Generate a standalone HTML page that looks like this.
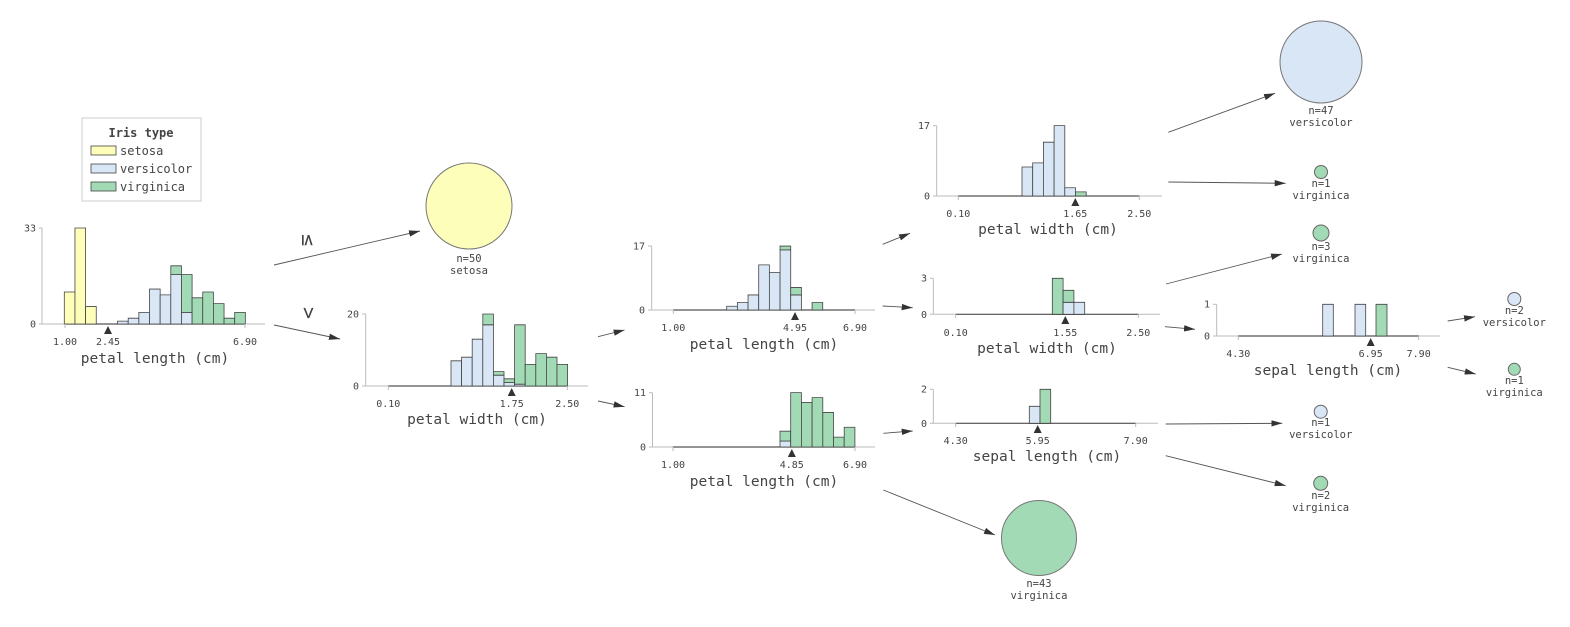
<!DOCTYPE html>
<html><head><meta charset="utf-8"><style>
html,body{margin:0;padding:0;background:#fff}
svg{display:block}
text{font-family:"DejaVu Sans Mono","Liberation Mono",monospace;fill:#444}
.t{font-size:10px}
.ax{font-size:14.5px}
.lf{font-size:10.5px}
.b rect{stroke:#444;stroke-width:0.8;vector-effect:non-scaling-stroke}
.Y{fill:#fefebb}.B{fill:#d9e6f5}.G{fill:#a1dab4}
.al{stroke:#bbb;stroke-width:1}
.bl{stroke:#555;stroke-width:1.2}
.ar{stroke:#555;stroke-width:0.9;fill:none;marker-end:url(#m)}
</style></head><body>
<svg width="1570" height="627" viewBox="0 0 1570 627" xmlns="http://www.w3.org/2000/svg">
<defs><marker id="m" markerUnits="userSpaceOnUse" markerWidth="12" markerHeight="8" refX="11" refY="4" orient="auto"><path d="M0,0.8 L11,4 L0,7.2 z" fill="#333"/></marker></defs>

<!-- legend -->
<rect x="82" y="118" width="119" height="83" fill="#fff" stroke="#ccc"/>
<text x="141" y="137" text-anchor="middle" style="font-size:12px;font-weight:bold">Iris type</text>
<rect x="91" y="146" width="25" height="9" class="Y" stroke="#444" stroke-width="0.8"/>
<rect x="91" y="164" width="25" height="9" class="B" stroke="#444" stroke-width="0.8"/>
<rect x="91" y="182" width="25" height="9" class="G" stroke="#444" stroke-width="0.8"/>
<text x="120" y="155" style="font-size:12px">setosa</text>
<text x="120" y="173" style="font-size:12px">versicolor</text>
<text x="120" y="191" style="font-size:12px">virginica</text>

<!-- ROOT -->
<line class="al" x1="42" y1="324" x2="265" y2="324"/><line class="al" x1="42" y1="228" x2="42" y2="324"/>
<line class="al" x1="39" y1="228" x2="42" y2="228"/><line class="al" x1="39" y1="324" x2="42" y2="324"/>
<line class="bl" x1="64.3" y1="324" x2="245.3" y2="324"/>
<g class="b" transform="translate(64.3,324) scale(10.65,-2.91)">
<rect class="Y" x="0" y="0" width="1" height="11"/><rect class="Y" x="1" y="0" width="1" height="33"/><rect class="Y" x="2" y="0" width="1" height="6"/>
<rect class="B" x="5" y="0" width="1" height="1"/><rect class="B" x="6" y="0" width="1" height="2"/><rect class="B" x="7" y="0" width="1" height="4"/>
<rect class="B" x="8" y="0" width="1" height="12"/><rect class="B" x="9" y="0" width="1" height="10"/>
<rect class="B" x="10" y="0" width="1" height="17"/><rect class="G" x="10" y="17" width="1" height="3"/>
<rect class="B" x="11" y="0" width="1" height="4"/><rect class="G" x="11" y="4" width="1" height="13"/>
<rect class="G" x="12" y="0" width="1" height="9"/><rect class="G" x="13" y="0" width="1" height="11"/><rect class="G" x="14" y="0" width="1" height="7"/>
<rect class="G" x="15" y="0" width="1" height="2"/><rect class="G" x="16" y="0" width="1" height="4"/>
</g>
<line class="al" x1="65" y1="324" x2="65" y2="328"/><line class="al" x1="245" y1="324" x2="245" y2="328"/>
<path d="M104,334 L108,326 L112,334 z" fill="#333"/>
<text class="t" x="36" y="231.5" text-anchor="end">33</text><text class="t" x="36" y="327.5" text-anchor="end">0</text>
<text class="t" x="65" y="345" text-anchor="middle">1.00</text><text class="t" x="108" y="345" text-anchor="middle">2.45</text><text class="t" x="245" y="345" text-anchor="middle">6.90</text>
<text class="ax" x="155" y="363" text-anchor="middle">petal length (cm)</text>

<text x="308" y="246" text-anchor="middle" transform="rotate(90 308 240)" style="font-size:20px">≤</text>
<text x="308" y="319" text-anchor="middle" transform="rotate(90 308 313)" style="font-size:20px">&gt;</text>
<line class="ar" x1="274" y1="265" x2="420" y2="231"/>
<line class="ar" x1="274" y1="325" x2="340" y2="339"/>

<!-- setosa leaf -->
<circle cx="469" cy="206" r="43" class="Y" stroke="#777"/>
<text class="lf" x="469" y="262" text-anchor="middle">n=50</text><text class="lf" x="469" y="274" text-anchor="middle">setosa</text>

<!-- NODE 2 petal width -->
<line class="al" x1="365.7" y1="386" x2="588" y2="386"/><line class="al" x1="365.7" y1="314" x2="365.7" y2="386"/>
<line class="al" x1="362" y1="314" x2="365.7" y2="314"/><line class="al" x1="362" y1="386" x2="365.7" y2="386"/>
<line class="bl" x1="388.3" y1="386" x2="567.3" y2="386"/>
<g class="b" transform="translate(451,386) scale(10.6,-3.6)">
<rect class="B" x="0" y="0" width="1" height="7"/><rect class="B" x="1" y="0" width="1" height="8"/><rect class="B" x="2" y="0" width="1" height="13"/>
<rect class="B" x="3" y="0" width="1" height="17"/><rect class="G" x="3" y="17" width="1" height="3"/>
<rect class="B" x="4" y="0" width="1" height="3"/><rect class="G" x="4" y="3" width="1" height="1"/>
<rect class="B" x="5" y="0" width="1" height="1"/><rect class="G" x="5" y="1" width="1" height="1"/>
<rect class="B" x="6" y="0" width="1" height="0.5"/><rect class="G" x="6" y="0.5" width="1" height="16.5"/>
<rect class="G" x="7" y="0" width="1" height="6"/><rect class="G" x="8" y="0" width="1" height="9"/><rect class="G" x="9" y="0" width="1" height="8"/><rect class="G" x="10" y="0" width="1" height="6"/>
</g>
<line class="al" x1="388.3" y1="386" x2="388.3" y2="390"/><line class="al" x1="567.3" y1="386" x2="567.3" y2="390"/>
<path d="M507.7,396 L511.7,388 L515.7,396 z" fill="#333"/>
<text class="t" x="359" y="317.5" text-anchor="end">20</text><text class="t" x="359" y="389.5" text-anchor="end">0</text>
<text class="t" x="388.3" y="407" text-anchor="middle">0.10</text><text class="t" x="511.7" y="407" text-anchor="middle">1.75</text><text class="t" x="567.3" y="407" text-anchor="middle">2.50</text>
<text class="ax" x="477" y="424" text-anchor="middle">petal width (cm)</text>
<line class="ar" x1="598" y1="336.7" x2="624.6" y2="330"/>
<line class="ar" x1="598" y1="401" x2="624.6" y2="406.7"/>

<!-- NODE 3 petal length top -->
<line class="al" x1="651.7" y1="310" x2="875" y2="310"/><line class="al" x1="651.7" y1="246" x2="651.7" y2="310"/>
<line class="al" x1="648" y1="246" x2="651.7" y2="246"/><line class="al" x1="648" y1="310" x2="651.7" y2="310"/>
<line class="bl" x1="673.3" y1="310" x2="855" y2="310"/>
<g class="b" transform="translate(726.7,310) scale(10.67,-3.76)">
<rect class="B" x="0" y="0" width="1" height="1"/><rect class="B" x="1" y="0" width="1" height="2"/><rect class="B" x="2" y="0" width="1" height="4"/>
<rect class="B" x="3" y="0" width="1" height="12"/><rect class="B" x="4" y="0" width="1" height="10"/>
<rect class="B" x="5" y="0" width="1" height="16"/><rect class="G" x="5" y="16" width="1" height="1"/>
<rect class="B" x="6" y="0" width="1" height="4"/><rect class="G" x="6" y="4" width="1" height="2"/>
<rect class="G" x="8" y="0" width="1" height="2"/>
</g>
<line class="al" x1="673.3" y1="310" x2="673.3" y2="314"/><line class="al" x1="855" y1="310" x2="855" y2="314"/>
<path d="M791,320 L795,312 L799,320 z" fill="#333"/>
<text class="t" x="645" y="249.5" text-anchor="end">17</text><text class="t" x="645" y="313.5" text-anchor="end">0</text>
<text class="t" x="673.3" y="331" text-anchor="middle">1.00</text><text class="t" x="795" y="331" text-anchor="middle">4.95</text><text class="t" x="855" y="331" text-anchor="middle">6.90</text>
<text class="ax" x="764" y="349" text-anchor="middle">petal length (cm)</text>
<line class="ar" x1="882.7" y1="244.3" x2="910" y2="233.3"/>
<line class="ar" x1="882.7" y1="306" x2="912.7" y2="307.7"/>

<!-- NODE 4 petal length bottom -->
<line class="al" x1="652.5" y1="447" x2="875" y2="447"/><line class="al" x1="652.5" y1="392.7" x2="652.5" y2="447"/>
<line class="al" x1="649" y1="392.7" x2="652.5" y2="392.7"/><line class="al" x1="649" y1="447" x2="652.5" y2="447"/>
<line class="bl" x1="673" y1="447" x2="855" y2="447"/>
<g class="b" transform="translate(780,447) scale(10.7,-4.94)">
<rect class="B" x="0" y="0" width="1" height="1.2"/><rect class="G" x="0" y="1.2" width="1" height="2"/>
<rect class="G" x="1" y="0" width="1" height="11"/><rect class="G" x="2" y="0" width="1" height="9"/><rect class="G" x="3" y="0" width="1" height="10"/>
<rect class="G" x="4" y="0" width="1" height="7"/><rect class="G" x="5" y="0" width="1" height="2"/><rect class="G" x="6" y="0" width="1" height="4"/>
</g>
<line class="al" x1="673" y1="447" x2="673" y2="451"/><line class="al" x1="855" y1="447" x2="855" y2="451"/>
<path d="M787.8,457 L791.8,449 L795.8,457 z" fill="#333"/>
<text class="t" x="646" y="396" text-anchor="end">11</text><text class="t" x="646" y="450.5" text-anchor="end">0</text>
<text class="t" x="673" y="468" text-anchor="middle">1.00</text><text class="t" x="791.8" y="468" text-anchor="middle">4.85</text><text class="t" x="855" y="468" text-anchor="middle">6.90</text>
<text class="ax" x="764" y="486" text-anchor="middle">petal length (cm)</text>
<line class="ar" x1="883.3" y1="433.3" x2="912.7" y2="431"/>
<line class="ar" x1="883.3" y1="490" x2="995" y2="535"/>

<!-- n=43 leaf -->
<circle cx="1039" cy="538" r="37.5" class="G" stroke="#777"/>
<text class="lf" x="1039" y="587" text-anchor="middle">n=43</text><text class="lf" x="1039" y="599" text-anchor="middle">virginica</text>

<!-- NODE 5 petal width top-right -->
<line class="al" x1="936.7" y1="196" x2="1162" y2="196"/><line class="al" x1="936.7" y1="125.7" x2="936.7" y2="196"/>
<line class="al" x1="933" y1="125.7" x2="936.7" y2="125.7"/><line class="al" x1="933" y1="196" x2="936.7" y2="196"/>
<line class="bl" x1="958.3" y1="196" x2="1139.3" y2="196"/>
<g class="b" transform="translate(1022,196) scale(10.7,-4.14)">
<rect class="B" x="0" y="0" width="1" height="7"/><rect class="B" x="1" y="0" width="1" height="8"/><rect class="B" x="2" y="0" width="1" height="13"/>
<rect class="B" x="3" y="0" width="1" height="17"/><rect class="B" x="4" y="0" width="1" height="2"/><rect class="G" x="5" y="0" width="1" height="1"/>
</g>
<line class="al" x1="958.3" y1="196" x2="958.3" y2="200"/><line class="al" x1="1139.3" y1="196" x2="1139.3" y2="200"/>
<path d="M1071.3,206 L1075.3,198 L1079.3,206 z" fill="#333"/>
<text class="t" x="930" y="129" text-anchor="end">17</text><text class="t" x="930" y="199.5" text-anchor="end">0</text>
<text class="t" x="958.3" y="217" text-anchor="middle">0.10</text><text class="t" x="1075.3" y="217" text-anchor="middle">1.65</text><text class="t" x="1139.3" y="217" text-anchor="middle">2.50</text>
<text class="ax" x="1048" y="234" text-anchor="middle">petal width (cm)</text>
<line class="ar" x1="1168.3" y1="132.3" x2="1275" y2="93.3"/>
<line class="ar" x1="1168.3" y1="182" x2="1285.7" y2="183.3"/>

<!-- leaves top right -->
<circle cx="1321" cy="62" r="41" class="B" stroke="#777"/>
<text class="lf" x="1321" y="114" text-anchor="middle">n=47</text><text class="lf" x="1321" y="126" text-anchor="middle">versicolor</text>
<circle cx="1321" cy="172" r="6.5" class="G" stroke="#666"/>
<text class="lf" x="1321" y="187" text-anchor="middle">n=1</text><text class="lf" x="1321" y="199" text-anchor="middle">virginica</text>
<circle cx="1321" cy="233" r="8" class="G" stroke="#666"/>
<text class="lf" x="1321" y="250" text-anchor="middle">n=3</text><text class="lf" x="1321" y="262" text-anchor="middle">virginica</text>

<!-- NODE 6 petal width mid-right -->
<line class="al" x1="933.3" y1="314.3" x2="1160" y2="314.3"/><line class="al" x1="933.3" y1="278.3" x2="933.3" y2="314.3"/>
<line class="al" x1="930" y1="278.3" x2="933.3" y2="278.3"/><line class="al" x1="930" y1="314.3" x2="933.3" y2="314.3"/>
<line class="bl" x1="955.7" y1="314.3" x2="1138.3" y2="314.3"/>
<g class="b" transform="translate(1052.3,314.3) scale(10.8,-12)">
<rect class="G" x="0" y="0" width="1" height="3"/>
<rect class="B" x="1" y="0" width="1" height="1"/><rect class="G" x="1" y="1" width="1" height="1"/>
<rect class="B" x="2" y="0" width="1" height="1"/>
</g>
<line class="al" x1="955.7" y1="314.3" x2="955.7" y2="318"/><line class="al" x1="1138.3" y1="314.3" x2="1138.3" y2="318"/>
<path d="M1061.3,324 L1065.3,316 L1069.3,324 z" fill="#333"/>
<text class="t" x="927" y="281.5" text-anchor="end">3</text><text class="t" x="927" y="318" text-anchor="end">0</text>
<text class="t" x="955.7" y="336" text-anchor="middle">0.10</text><text class="t" x="1065.3" y="336" text-anchor="middle">1.55</text><text class="t" x="1138.3" y="336" text-anchor="middle">2.50</text>
<text class="ax" x="1047" y="353" text-anchor="middle">petal width (cm)</text>
<line class="ar" x1="1166" y1="284" x2="1282" y2="254"/>
<line class="ar" x1="1165" y1="326.7" x2="1195" y2="329.3"/>

<!-- NODE 7 sepal length -->
<line class="al" x1="933.3" y1="423.3" x2="1158" y2="423.3"/><line class="al" x1="933.3" y1="389.3" x2="933.3" y2="423.3"/>
<line class="al" x1="930" y1="389.3" x2="933.3" y2="389.3"/><line class="al" x1="930" y1="423.3" x2="933.3" y2="423.3"/>
<line class="bl" x1="955.7" y1="423.3" x2="1135.7" y2="423.3"/>
<g class="b" transform="translate(1029.3,423.3) scale(10.7,-17)">
<rect class="B" x="0" y="0" width="1" height="1"/><rect class="G" x="1" y="0" width="1" height="2"/>
</g>
<line class="al" x1="955.7" y1="423.3" x2="955.7" y2="427"/><line class="al" x1="1135.7" y1="423.3" x2="1135.7" y2="427"/>
<path d="M1033.7,433 L1037.7,425 L1041.7,433 z" fill="#333"/>
<text class="t" x="927" y="392.5" text-anchor="end">2</text><text class="t" x="927" y="427" text-anchor="end">0</text>
<text class="t" x="955.7" y="444" text-anchor="middle">4.30</text><text class="t" x="1037.7" y="444" text-anchor="middle">5.95</text><text class="t" x="1135.7" y="444" text-anchor="middle">7.90</text>
<text class="ax" x="1047" y="461" text-anchor="middle">sepal length (cm)</text>
<line class="ar" x1="1165.7" y1="424" x2="1282.3" y2="423.3"/>
<line class="ar" x1="1165.7" y1="455.7" x2="1285.7" y2="485.7"/>

<circle cx="1320.7" cy="411.7" r="6.5" class="B" stroke="#666"/>
<text class="lf" x="1320.7" y="426" text-anchor="middle">n=1</text><text class="lf" x="1320.7" y="438" text-anchor="middle">versicolor</text>
<circle cx="1320.7" cy="483.3" r="7" class="G" stroke="#666"/>
<text class="lf" x="1320.7" y="499" text-anchor="middle">n=2</text><text class="lf" x="1320.7" y="511" text-anchor="middle">virginica</text>

<!-- NODE 8 sepal length far right -->
<line class="al" x1="1216.7" y1="336" x2="1440" y2="336"/><line class="al" x1="1216.7" y1="304.3" x2="1216.7" y2="336"/>
<line class="al" x1="1213" y1="304.3" x2="1216.7" y2="304.3"/><line class="al" x1="1213" y1="336" x2="1216.7" y2="336"/>
<line class="bl" x1="1238.3" y1="336" x2="1418.7" y2="336"/>
<g class="b">
<rect class="B" x="1322.7" y="304.3" width="10.6" height="31.7"/><rect class="B" x="1355" y="304.3" width="10.7" height="31.7"/><rect class="G" x="1376" y="304.3" width="11" height="31.7"/>
</g>
<line class="al" x1="1238.3" y1="336" x2="1238.3" y2="340"/><line class="al" x1="1418.7" y1="336" x2="1418.7" y2="340"/>
<path d="M1366.7,346 L1370.7,338 L1374.7,346 z" fill="#333"/>
<text class="t" x="1210" y="307.5" text-anchor="end">1</text><text class="t" x="1210" y="339.5" text-anchor="end">0</text>
<text class="t" x="1238.3" y="357" text-anchor="middle">4.30</text><text class="t" x="1370.7" y="357" text-anchor="middle">6.95</text><text class="t" x="1418.7" y="357" text-anchor="middle">7.90</text>
<text class="ax" x="1328" y="375" text-anchor="middle">sepal length (cm)</text>
<line class="ar" x1="1447.7" y1="321" x2="1475" y2="316.7"/>
<line class="ar" x1="1447.7" y1="367.3" x2="1475.7" y2="374"/>

<circle cx="1514.3" cy="299" r="6.5" class="B" stroke="#666"/>
<text class="lf" x="1514.3" y="314" text-anchor="middle">n=2</text><text class="lf" x="1514.3" y="326" text-anchor="middle">versicolor</text>
<circle cx="1514.3" cy="369.3" r="6" class="G" stroke="#666"/>
<text class="lf" x="1514.3" y="384" text-anchor="middle">n=1</text><text class="lf" x="1514.3" y="396" text-anchor="middle">virginica</text>
</svg>
</body></html>
